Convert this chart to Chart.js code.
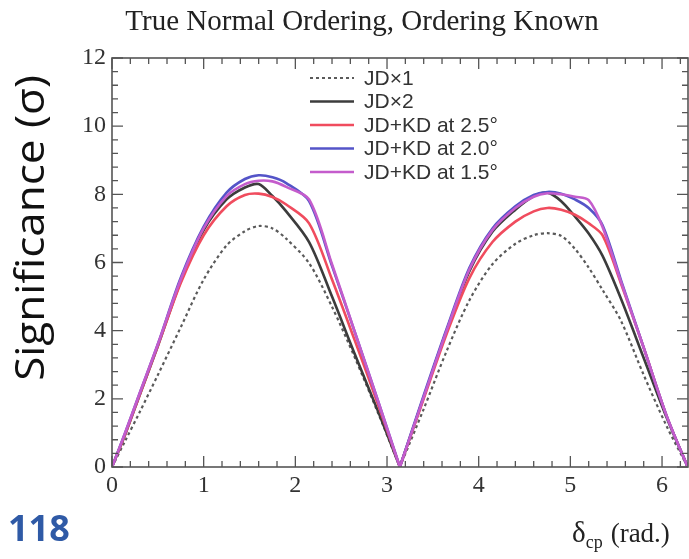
<!DOCTYPE html>
<html>
<head>
<meta charset="utf-8">
<script src="https://cdn.jsdelivr.net/npm/chart.js@4.4.1/dist/chart.umd.min.js"></script>
<style>
html,body{margin:0;padding:0;background:#fff;}
#wrap{position:relative;width:689px;height:559px;}
canvas{display:block;}
</style>
</head>
<body>
<div id="wrap"><canvas id="c" width="689" height="559"></canvas></div>
<script>
// ---- data ----
const xValues = [0,0.15,0.3,0.5,0.75,1.0,1.25,1.45,1.6,1.75,1.9,2.15,2.4,2.65,2.9,3.14,3.14,3.4,3.65,3.9,4.15,4.4,4.6,4.75,4.9,5.05,5.2,5.35,5.55,5.8,6.05,6.28];
const jdx1   = [0,0.8,1.6,2.7,4.1,5.5,6.5,6.92,7.07,7.0,6.7,5.98,4.7,3.2,1.6,0,0, 1.7,3.4,4.9,5.95,6.55,6.8,6.86,6.78,6.4,5.85,5.2,4.3,2.7,1.2,0];
const jdx2   = [0,1.0,2.1,3.55,5.45,6.95,7.85,8.2,8.3,7.95,7.5,6.6,5.0,3.3,1.65,0,0, 2.05,4.0,5.75,6.9,7.55,7.95,8.05,7.8,7.35,6.85,6.2,4.95,3.2,1.45,0];
const kd25   = [0,1.0,2.1,3.55,5.4,6.8,7.65,7.98,8.02,7.92,7.7,7.15,5.5,3.7,1.85,0,0, 2.0,3.9,5.55,6.6,7.2,7.5,7.6,7.55,7.4,7.15,6.8,5.4,3.5,1.5,0];
const kd20   = [0,1.05,2.15,3.6,5.55,7.05,8.05,8.45,8.56,8.5,8.33,7.8,5.9,3.95,1.95,0,0, 2.1,4.05,5.85,7.0,7.65,7.98,8.07,8.02,7.85,7.6,7.1,5.5,3.5,1.5,0];
const kd15   = [0,1.05,2.15,3.6,5.5,7.0,7.95,8.3,8.4,8.38,8.22,7.85,5.95,3.95,1.95,0,0, 2.05,4.0,5.8,6.95,7.6,7.93,8.03,8.0,7.93,7.83,7.05,5.45,3.5,1.5,0];
const seriesLabels = ['JD\u00d71','JD\u00d72','JD+KD at 2.5\u00b0','JD+KD at 2.0\u00b0','JD+KD at 1.5\u00b0'];
const xTicks = [0,1,2,3,4,5,6];
const yTicks = [0,2,4,6,8,10,12];
const titleText = 'True Normal Ordering, Ordering Known';
const yTitle = 'Significance (\u03c3)';
const pageNumber = '118';

const colors = ['#5a5a5a','#3c3c3c','#f04c5e','#5454c8','#c45ccc'];
const seriesData = [jdx1, jdx2, kd25, kd20, kd15];

function pts(arr){ return arr.map((y,i)=>({x:xValues[i], y:y})); }

const datasets = seriesData.map((arr,i)=>({
  label: seriesLabels[i],
  data: pts(arr),
  borderColor: colors[i],
  borderWidth: i===0 ? 2.2 : 2.6,
  borderDash: i===0 ? [3,3] : [],
  pointRadius: 0,
  fill: false,
  tension: 0.3,
  order: 5 - i
}));

const decor = {
  id: 'decor',
  afterDraw(chart){
    const ctx = chart.ctx;
    const a = chart.chartArea;
    const xs = chart.scales.x, ys = chart.scales.y;
    ctx.save();
    // frame
    ctx.strokeStyle = '#555';
    ctx.lineWidth = 1.6;
    ctx.strokeRect(a.left, a.top, a.right - a.left, a.bottom - a.top);
    // x ticks (bottom and top), minor every 0.2
    ctx.lineWidth = 1.3;
    for (let k = 0; k <= 31; k++) {
      const v = k * 0.2;
      if (v > xs.max + 1e-9) break;
      const px = xs.getPixelForValue(v);
      const major = (k % 5 === 0);
      const len = major ? 11 : 6;
      ctx.beginPath();
      ctx.moveTo(px, a.bottom); ctx.lineTo(px, a.bottom - len);
      ctx.moveTo(px, a.top); ctx.lineTo(px, a.top + len);
      ctx.stroke();
    }
    // y ticks (left and right), minor every 0.4
    for (let k = 0; k <= 30; k++) {
      const v = k * 0.4;
      if (v > ys.max + 1e-9) break;
      const py = ys.getPixelForValue(v);
      const major = (k % 5 === 0);
      const len = major ? 11 : 6;
      ctx.beginPath();
      ctx.moveTo(a.left, py); ctx.lineTo(a.left + len, py);
      ctx.moveTo(a.right, py); ctx.lineTo(a.right - len, py);
      ctx.stroke();
    }
    // legend
    const lx0 = 310, lx1 = 354, tx = 364;
    ctx.font = '21px "Liberation Sans", Arial, sans-serif';
    ctx.textBaseline = 'middle';
    ctx.textAlign = 'left';
    chart.data.datasets.forEach((ds, i) => {
      const yy = 78 + i * 23.5;
      ctx.strokeStyle = ds.borderColor;
      ctx.lineWidth = ds.borderWidth;
      ctx.setLineDash(ds.borderDash || []);
      ctx.beginPath(); ctx.moveTo(lx0, yy); ctx.lineTo(lx1, yy); ctx.stroke();
      ctx.setLineDash([]);
      ctx.fillStyle = '#333';
      ctx.fillText(ds.label, tx, yy + 1);
    });
    // title
    ctx.fillStyle = '#222';
    ctx.font = '29px "Liberation Serif", "Times New Roman", serif';
    ctx.textAlign = 'center';
    ctx.textBaseline = 'alphabetic';
    ctx.fillText(titleText, 362, 30);
    // y title
    ctx.save();
    ctx.translate(44, 228);
    ctx.rotate(-Math.PI/2);
    ctx.scale(1.1, 1);
    ctx.font = '40px "Open Sans", "Noto Sans", sans-serif';
    ctx.fillStyle = '#111';
    ctx.textAlign = 'center';
    ctx.textBaseline = 'alphabetic';
    ctx.fillText(yTitle, 0, 0);
    ctx.restore();
    // x title: delta_cp (rad.)
    ctx.fillStyle = '#222';
    ctx.textAlign = 'left';
    ctx.textBaseline = 'alphabetic';
    ctx.font = '29px "Liberation Serif", serif';
    let x0 = 572;
    ctx.fillText('\u03b4', x0, 542);
    x0 += ctx.measureText('\u03b4').width;
    ctx.font = '18px "Liberation Serif", serif';
    ctx.fillText('cp', x0, 548);
    x0 += ctx.measureText('cp').width + 8;
    ctx.font = '27px "Liberation Serif", serif';
    ctx.fillText('(rad.)', x0, 542);
    // page number
    ctx.fillStyle = '#2f5aa6';
    ctx.font = 'bold 36px "Open Sans", "Noto Sans", sans-serif';
    ctx.fillText(pageNumber, 8, 541);
    ctx.restore();
  }
};

new Chart(document.getElementById('c'), {
  type: 'line',
  data: { datasets },
  options: {
    responsive: false,
    animation: false,
    layout: { padding: { top: 58, right: 1, bottom: 0, left: 0 } },
    plugins: { legend: { display: false }, tooltip: { enabled: false }, title: { display: false } },
    scales: {
      x: {
        type: 'linear', min: 0, max: 6.2832,
        afterBuildTicks: s => { s.ticks = xTicks.map(v => ({ value: v })); },
        afterFit: s => { s.height = 92; },
        grid: { display: false, drawTicks: false },
        border: { display: false },
        ticks: { color: '#333', padding: 4, maxRotation: 0, font: { family: '"Liberation Serif", serif', size: 24 } }
      },
      y: {
        type: 'linear', min: 0, max: 12,
        afterBuildTicks: s => { s.ticks = yTicks.map(v => ({ value: v })); },
        afterFit: s => { s.width = 112; },
        grid: { display: false, drawTicks: false },
        border: { display: false },
        ticks: { color: '#333', padding: 6, font: { family: '"Liberation Serif", serif', size: 24 } }
      }
    }
  },
  plugins: [decor]
});
</script>
</body>
</html>
